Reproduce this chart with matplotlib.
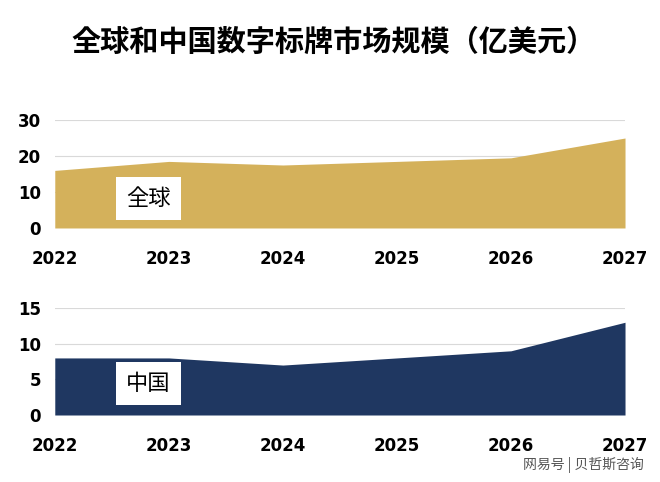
import matplotlib
matplotlib.use("Agg")
import matplotlib.pyplot as plt
from matplotlib import font_manager as fm

cjk = None
for f in fm.fontManager.ttflist:
    if "CJK" in f.name and ("SC" in f.name or cjk is None):
        cjk = f.name
        if "SC" in f.name:
            break
if cjk is None:
    for path in fm.findSystemFonts():
        if "CJK" in path:
            fm.fontManager.addfont(path)
            cjk = fm.FontProperties(fname=path).get_name()
            break
plt.rcParams["font.family"] = [cjk or "Noto Sans CJK SC", "DejaVu Sans"]

years = [2022, 2023, 2024, 2025, 2026, 2027]
global_vals = [16, 18.5, 17.5, 18.5, 19.5, 25]
china_vals = [8, 8, 7, 8, 9, 13]

fig = plt.figure(figsize=(6.6, 4.82), dpi=100)
fig.patch.set_facecolor("white")
fig.text(0.505, 0.912, "全球和中国数字标牌市场规模（亿美元）", ha="center", va="center",
         fontsize=21, fontweight="bold")

def panel(rect, vals, color, ymax, yticks, label, ly):
    ax = fig.add_axes(rect)
    ax.fill_between(years, vals, 0, color=color, lw=0, zorder=2)
    ax.set_xlim(2022, 2027)
    ax.set_ylim(0, ymax)
    ax.set_yticks(yticks)
    ax.set_xticks(years)
    ax.grid(axis="y", color="#d9d9d9", lw=0.8, zorder=0)
    for s in ax.spines.values():
        s.set_visible(False)
    ax.tick_params(length=0, labelsize=12)
    ax.tick_params(axis="x", pad=16)
    ax.tick_params(axis="y", pad=10)
    for t in ax.get_xticklabels() + ax.get_yticklabels():
        t.set_fontweight("bold")
        t.set_fontfamily("DejaVu Sans")
    ax.text(2022.82, ly, label, fontsize=16, ha="center", va="center", zorder=3,
            bbox=dict(facecolor="white", edgecolor="none", boxstyle="square,pad=0.45"))
    return ax

panel([0.083, 0.527, 0.864, 0.224], global_vals, "#D4B15B", 30, [0, 10, 20, 30], "全球", 8.3)
panel([0.083, 0.139, 0.864, 0.222], china_vals, "#1F3761", 15, [0, 5, 10, 15], "中国", 4.4)

fig.text(0.975, 0.035, "网易号 | 贝哲斯咨询", ha="right", va="center", fontsize=10, color="#555555")
fig.savefig("out.png", dpi=100)
